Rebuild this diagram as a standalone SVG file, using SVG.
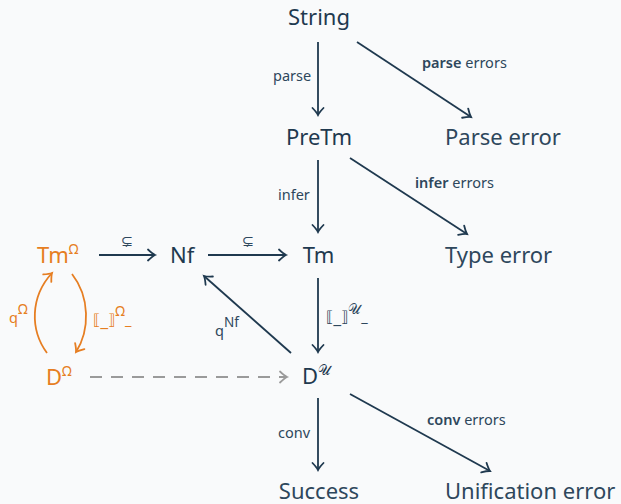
<svg xmlns="http://www.w3.org/2000/svg" width="621" height="504" viewBox="0 0 621 504">
<defs>
<marker id="ah" markerUnits="userSpaceOnUse" markerWidth="16" markerHeight="16" viewBox="-10 -8 12 16" refX="0" refY="0" orient="auto">
<path d="M-7,-5.5 Q-2.5,-1.2 0,0 Q-2.5,1.2 -7,5.5" fill="none" stroke="#1f394f" stroke-width="1.8" stroke-linecap="round"/>
</marker>
<marker id="aho" markerUnits="userSpaceOnUse" markerWidth="16" markerHeight="16" viewBox="-10 -8 12 16" refX="0" refY="0" orient="auto">
<path d="M-7,-5.5 Q-2.5,-1.2 0,0 Q-2.5,1.2 -7,5.5" fill="none" stroke="#e67e22" stroke-width="1.8" stroke-linecap="round"/>
</marker>
<marker id="ahg" markerUnits="userSpaceOnUse" markerWidth="16" markerHeight="16" viewBox="-10 -8 12 16" refX="0" refY="0" orient="auto">
<path d="M-7,-5.5 Q-2.5,-1.2 0,0 Q-2.5,1.2 -7,5.5" fill="none" stroke="#9a9a9a" stroke-width="1.8" stroke-linecap="round"/>
</marker>
</defs>
<style>
text{font-family:"Noto Sans","Open Sans",sans-serif}
.n{font-size:22px;fill:#1f394f;font-weight:450}
.e{font-size:22px;fill:#2e475c;font-weight:370}
.o{font-size:22px;fill:#e67e22;font-weight:420}
.l{font-size:14.5px;fill:#2e475c}
.lb{font-weight:600}
.lo{font-size:14.5px;fill:#e67e22}
.sup{font-size:13.5px}
.m{font-family:"DejaVu Sans",sans-serif}
.br{font-size:15px}
.a{fill:none;stroke:#1f394f;stroke-width:1.8;marker-end:url(#ah)}
.ao{fill:none;stroke:#e67e22;stroke-width:1.8;marker-end:url(#aho)}
.ag{fill:none;stroke:#9a9a9a;stroke-width:1.8;stroke-dasharray:12 9;marker-end:url(#ahg)}
</style>
<rect width="621" height="504" fill="#f9fafb"/>

<g id="connectors">
<line class="a" x1="318" y1="42" x2="318" y2="115"/>
<line class="a" x1="357" y1="42" x2="471" y2="117"/>
<line class="a" x1="318" y1="160" x2="318" y2="232"/>
<line class="a" x1="350" y1="158" x2="467" y2="234"/>
<line class="a" x1="99" y1="255" x2="155" y2="255"/>
<line class="a" x1="208" y1="255" x2="286" y2="255"/>
<line class="a" x1="318" y1="278" x2="318" y2="352"/>
<line class="a" x1="291" y1="353" x2="204" y2="276"/>
<line class="ag" x1="90" y1="377" x2="287" y2="377"/>
<line class="a" x1="318" y1="398" x2="318" y2="470"/>
<line class="a" x1="350" y1="394" x2="490" y2="471"/>
<path class="ao" d="M47,353 C30,330 30,297 52,273"/>
<path class="ao" d="M72,274 C90,297 90,330 76,352"/>
<text class="l" x="273" y="81">parse</text>
<text class="l" x="422" y="68"><tspan class="lb">parse</tspan> errors</text>
<text class="l" x="278" y="200">infer</text>
<text class="l" x="415" y="188"><tspan class="lb">infer</tspan> errors</text>
<text class="l m" x="127" y="246" text-anchor="middle" font-size="13">⊊</text>
<text class="l m" x="248" y="246" text-anchor="middle" font-size="13">⊊</text>
<text class="l" x="326" y="322"><tspan class="m br">⟦_⟧</tspan><tspan class="sup" dy="-8">𝒰</tspan><tspan dy="8">_</tspan></text>
<text class="l" x="215" y="336">q<tspan class="sup" dy="-9">Nf</tspan></text>
<text class="lo" x="9" y="323">q<tspan class="sup" dy="-9">Ω</tspan></text>
<text class="lo" x="93" y="325"><tspan class="m br">⟦_⟧</tspan><tspan class="sup" dy="-9">Ω</tspan><tspan dy="9">_</tspan></text>
<text class="l" x="278" y="438">conv</text>
<text class="l" x="427" y="425"><tspan class="lb">conv</tspan> errors</text>
</g>

<g id="String"><text class="n" x="319" y="25" text-anchor="middle">String</text></g>
<g id="PreTm"><text class="n" x="319" y="145" text-anchor="middle">PreTm</text></g>
<g id="ParseError"><text class="e" x="445" y="145">Parse error</text></g>
<g id="Tm"><text class="n" x="318.5" y="263" text-anchor="middle">Tm</text></g>
<g id="TypeError"><text class="e" x="445" y="263">Type error</text></g>
<g id="Nf"><text class="n" x="170" y="263">Nf</text></g>
<g id="TmOmega"><text class="o" x="37" y="263">Tm<tspan class="sup" dy="-9">Ω</tspan></text></g>
<g id="DOmega"><text class="o" x="46" y="385">D<tspan class="sup" dy="-9">Ω</tspan></text></g>
<g id="DU"><text class="n" x="302" y="384">D<tspan class="sup" dy="-9">𝒰</tspan></text></g>
<g id="Success"><text class="e" x="319" y="499" text-anchor="middle">Success</text></g>
<g id="UnificationError"><text class="e" x="445" y="499">Unification error</text></g>
</svg>
